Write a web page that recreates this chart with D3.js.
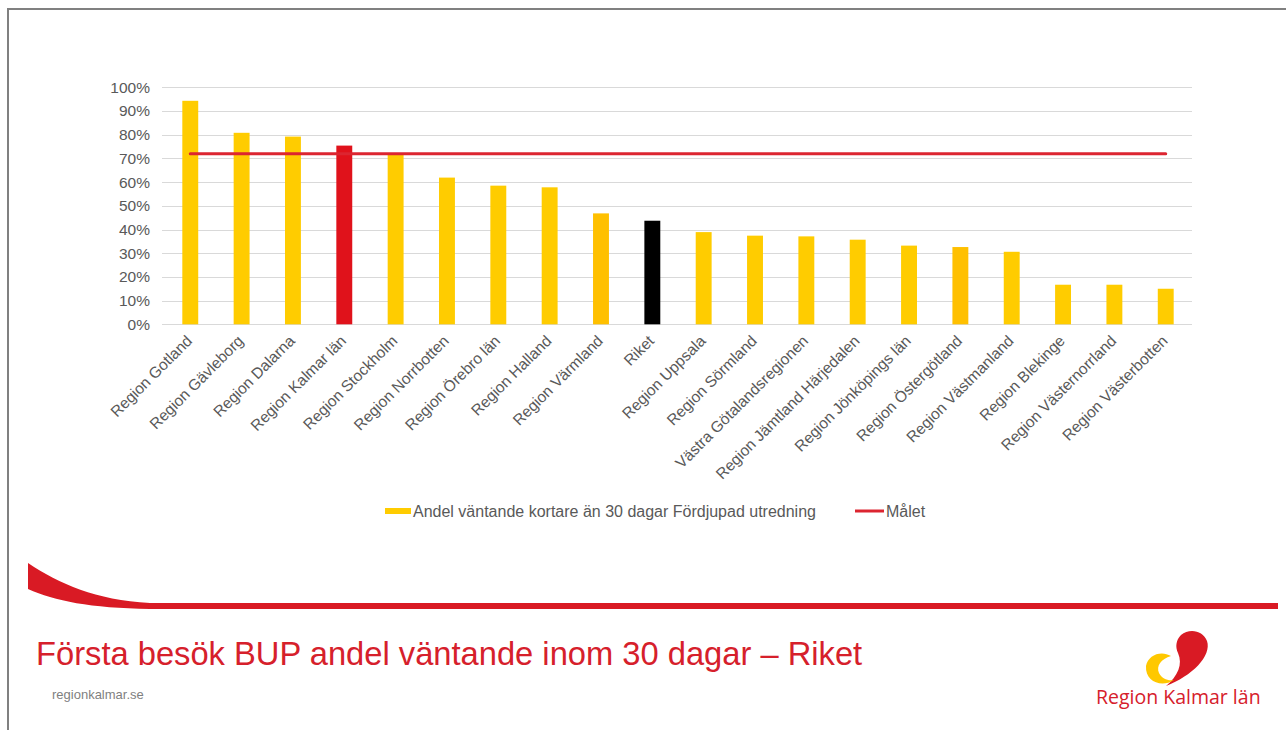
<!DOCTYPE html>
<html>
<head>
<meta charset="utf-8">
<script src="https://cdn.jsdelivr.net/npm/d3@7"></script>
<style>
  body { margin: 0; background: #fff; }
  svg { display: block; font-family: "Liberation Sans", Arial, sans-serif; }
</style>
</head>
<body>
<svg id="chart" width="1286" height="730"></svg>
<script>
// data
var regions = ["Region Gotland", "Region Gävleborg", "Region Dalarna", "Region Kalmar län",
    "Region Stockholm", "Region Norrbotten", "Region Örebro län", "Region Halland",
    "Region Värmland", "Riket", "Region Uppsala", "Region Sörmland",
    "Västra Götalandsregionen", "Region Jämtland Härjedalen", "Region Jönköpings län",
    "Region Östergötland", "Region Västmanland", "Region Blekinge",
    "Region Västernorrland", "Region Västerbotten"];
var andel = [0.943, 0.808, 0.792, 0.754, 0.722, 0.619, 0.585, 0.578, 0.468, 0.437,
    0.389, 0.374, 0.371, 0.357, 0.332, 0.326, 0.306, 0.167, 0.167, 0.150];
var malet = 0.72;
var yTicks = [0, 0.1, 0.2, 0.3, 0.4, 0.5, 0.6, 0.7, 0.8, 0.9, 1.0];
var seriesNames = ["Andel väntande kortare än 30 dagar Fördjupad utredning", "Målet"];

// special bar colours
var barColor = function (name) {
    if (name === "Region Kalmar län") return "#E0121B";
    if (name === "Riket") return "#000000";
    if (name === "Region Värmland" || name === "Region Östergötland") return "#FFC000";
    return "#FFCC00";
};

var svg = d3.select("#chart");

// slide frame
svg.append("rect").attr("x", 7).attr("y", 8).attr("width", 1279).attr("height", 2).attr("fill", "#808080");
svg.append("rect").attr("x", 7).attr("y", 8).attr("width", 2).attr("height", 722).attr("fill", "#808080");

var x = d3.scaleBand()
    .domain(regions)
    .range([164.6, 1191.4])
    .paddingInner(0.69)
    .paddingOuter(0.345);

var y = d3.scaleLinear()
    .domain([0, 1])
    .range([324.3, 87.3]);

// gridlines
svg.append("g")
    .selectAll("line")
    .data(yTicks)
    .enter().append("line")
    .attr("x1", 162).attr("x2", 1192)
    .attr("y1", function (d) { return Math.round(y(d)) + 0.5; })
    .attr("y2", function (d) { return Math.round(y(d)) + 0.5; })
    .attr("stroke", "#D9D9D9")
    .attr("stroke-width", 1);

// y labels
var yAxis = d3.axisLeft(y)
    .tickValues(yTicks)
    .tickFormat(d3.format(".0%"))
    .tickSize(0)
    .tickPadding(0);

var gy = svg.append("g")
    .attr("transform", "translate(150,0)")
    .call(yAxis);
gy.select(".domain").remove();
gy.selectAll("text")
    .attr("font-size", 15.5)
    .attr("font-family", "Liberation Sans, Arial, sans-serif")
    .attr("fill", "#595959");

// bars
svg.append("g")
    .selectAll("rect")
    .data(regions)
    .enter().append("rect")
    .attr("x", function (d) { return x(d); })
    .attr("y", function (d, i) { return y(andel[i]); })
    .attr("width", x.bandwidth())
    .attr("height", function (d, i) { return y(0) - y(andel[i]); })
    .attr("fill", function (d) { return barColor(d); });

// target line
var line = d3.line()
    .x(function (d) { return x(d) + x.bandwidth() / 2; })
    .y(function () { return y(malet); });

svg.append("path")
    .datum([regions[0], regions[regions.length - 1]])
    .attr("d", line)
    .attr("fill", "none")
    .attr("stroke", "#DC2530")
    .attr("stroke-width", 3)
    .attr("stroke-linecap", "round");

// x labels
var xAxis = d3.axisBottom(x).tickSize(0).tickPadding(0);
var gx = svg.append("g")
    .attr("transform", "translate(0,324)")
    .call(xAxis);
gx.select(".domain").remove();
gx.selectAll("text")
    .attr("font-size", 15.5)
    .attr("font-family", "Liberation Sans, Arial, sans-serif")
    .attr("fill", "#595959")
    .attr("text-anchor", "end")
    .attr("dy", "0.35em")
    .attr("transform", "translate(-1,14) rotate(-45)");

// legend
var legend = svg.append("g").attr("font-size", 16).attr("fill", "#595959");
legend.append("rect").attr("x", 385).attr("y", 508).attr("width", 26).attr("height", 6).attr("fill", "#FFCC00");
legend.append("text").attr("x", 413).attr("y", 517).text(seriesNames[0]);
legend.append("line").attr("x1", 855).attr("x2", 884).attr("y1", 511).attr("y2", 511)
    .attr("stroke", "#DC2530").attr("stroke-width", 3);
legend.append("text").attr("x", 886).attr("y", 517).text(seriesNames[1]);

// footer swoosh
svg.append("path")
    .attr("d", "M28,563 C60,584 95,600 150,603 L1278,603 L1278,609 L150,609 C90,608 55,601 28,589 Z")
    .attr("fill", "#D91A24");

svg.append("text")
    .attr("x", 36).attr("y", 665)
    .attr("font-size", 32.7)
    .attr("fill", "#D6202B")
    .text("Första besök BUP andel väntande inom 30 dagar – Riket");

svg.append("text")
    .attr("x", 52).attr("y", 699)
    .attr("font-size", 13)
    .attr("fill", "#7F7F7F")
    .text("regionkalmar.se");

// logo
var logo = svg.append("g");
logo.append("path")
    .attr("d", "M1166,686 C1192,676 1212,656 1207,641 C1203,630 1189,628 1181,635 C1176,640 1175,647 1178,653 C1183,664 1178,676 1166,686 Z")
    .attr("fill", "#D91A24");
logo.append("path")
    .attr("d", "M1146,666 C1148,655 1161,650 1171,656 C1161,659 1156,666 1159,673 C1162,679 1168,681 1174,680 C1162,688 1145,682 1146,666 Z")
    .attr("fill", "#FFC800");
logo.append("text")
    .attr("x", 1096).attr("y", 704)
    .attr("font-size", 19.5)
    .attr("font-family", "Open Sans, sans-serif")
    .attr("fill", "#D6202B")
    .text("Region Kalmar län");
</script>
</body>
</html>
